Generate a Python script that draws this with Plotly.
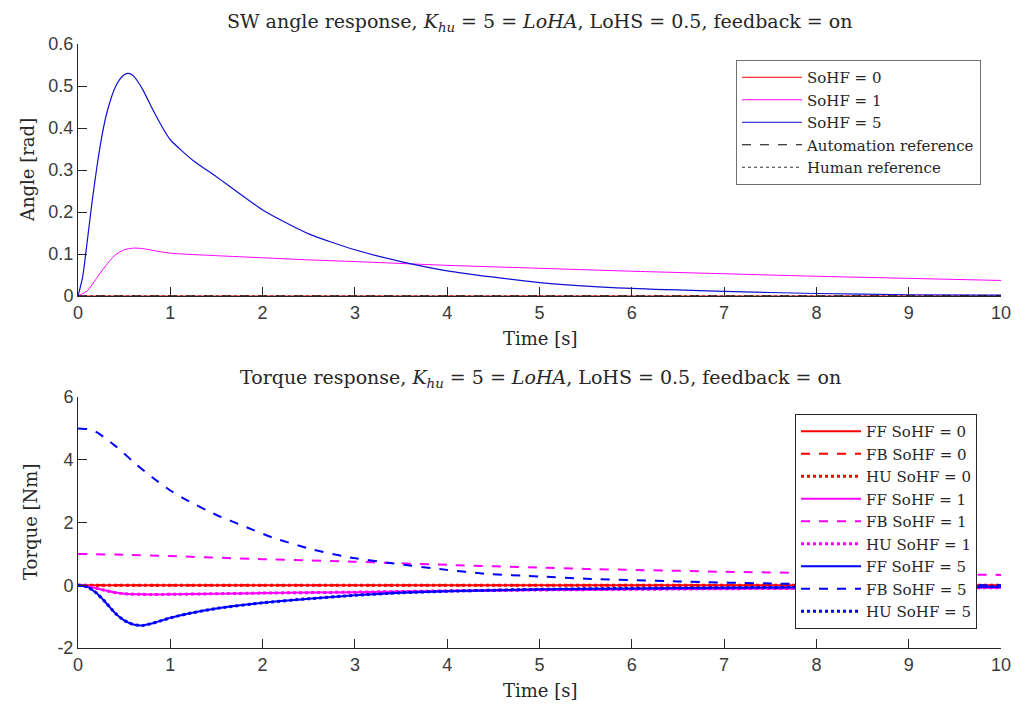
import plotly.graph_objects as go

# ---------------- data ----------------
t_ang5 = [0, 0.05, 0.1, 0.15, 0.2, 0.25, 0.3, 0.35, 0.4, 0.45, 0.5, 0.55, 0.6, 0.7, 0.8, 0.9, 1.0,
          1.25, 1.5, 2.0, 2.5, 3.0, 3.5, 4.0, 5.0, 6.0, 7.0, 8.0, 9.0, 10.0]
ang_sohf5 = [0, 0.045, 0.13, 0.22, 0.30, 0.37, 0.425, 0.465, 0.495, 0.515, 0.527, 0.53, 0.524, 0.492,
             0.448, 0.407, 0.372, 0.322, 0.284, 0.205, 0.148, 0.11, 0.082, 0.06, 0.032, 0.018,
             0.011, 0.006, 0.003, 0.002]
t_ang1 = [0, 0.1, 0.2, 0.3, 0.4, 0.5, 0.6, 0.7, 0.8, 1.0, 1.5, 2.0, 2.5, 3.0, 4.0, 5.0, 6.0, 7.0, 8.0,
          9.0, 10.0]
ang_sohf1 = [0, 0.012, 0.042, 0.072, 0.097, 0.11, 0.114, 0.113, 0.109, 0.102, 0.096, 0.091, 0.086,
             0.082, 0.073, 0.066, 0.059, 0.053, 0.047, 0.042, 0.037]
t_flat = [0, 10]
ang_sohf0 = [0, 0]
ang_auto_ref = [0, 0]
ang_human_ref = [0, 0]

t_fb5 = [0, 0.1, 0.2, 0.3, 0.4, 0.5, 0.6, 0.8, 1.0, 1.2, 1.5, 1.8, 2.1, 2.5, 2.9, 3.4, 4.0, 4.4, 5.0,
         5.5, 6.5, 7.6, 8.5, 10.0]
fb_sohf5 = [5.0, 4.98, 4.88, 4.68, 4.45, 4.2, 3.93, 3.45, 3.02, 2.68, 2.24, 1.88, 1.53, 1.17, 0.91,
            0.70, 0.49, 0.37, 0.28, 0.21, 0.12, 0.05, 0.02, 0.0]
t_fb1 = [0, 0.5, 1, 2, 3, 3.4, 4, 5, 5.5, 6, 7, 8, 9, 10]
fb_sohf1 = [1.0, 0.97, 0.93, 0.83, 0.75, 0.71, 0.65, 0.56, 0.52, 0.49, 0.43, 0.39, 0.36, 0.33]

t_ff5 = [0, 0.1, 0.2, 0.3, 0.4, 0.5, 0.6, 0.7, 0.8, 1.0, 1.2, 1.5, 2.0, 2.5, 3.0, 3.5, 4.0, 5.0, 6.0,
         7.0, 8.0, 9.0, 10.0]
ff_sohf5 = [0, -0.05, -0.25, -0.55, -0.88, -1.12, -1.25, -1.28, -1.22, -1.04, -0.9, -0.74, -0.56,
            -0.43, -0.32, -0.24, -0.19, -0.13, -0.1, -0.08, -0.06, -0.05, -0.05]
hu_sohf5 = ff_sohf5
t_ff1 = [0, 0.1, 0.2, 0.3, 0.4, 0.5, 0.7, 1.0, 1.5, 2.0, 3.0, 4.0, 5.0, 6.0, 7.0, 8.0, 9.0, 10.0]
ff_sohf1 = [0, -0.03, -0.1, -0.17, -0.23, -0.27, -0.29, -0.29, -0.27, -0.25, -0.22, -0.18, -0.15,
            -0.13, -0.11, -0.1, -0.09, -0.08]
hu_sohf1 = ff_sohf1
ff_sohf0 = [0, 0]
fb_sohf0 = [0, 0]
hu_sohf0 = [0, 0]

x_ticks = list(range(11))
y_ticks_top = [0, 0.1, 0.2, 0.3, 0.4, 0.5, 0.6]
y_ticklabels_top = ["0", "0.1", "0.2", "0.3", "0.4", "0.5", "0.6"]
y_ticks_bot = [-2, 0, 2, 4, 6]
y_ticklabels_bot = ["-2", "0", "2", "4", "6"]

EQ = "&nbsp;=&nbsp;"
title_top = ("SW angle response, <i>K</i><sub><i>hu</i></sub>" + EQ + "5" + EQ + "<i>LoHA</i>, LoHS"
             + EQ + "0.5, feedback" + EQ + "on")
title_bot = ("Torque response, <i>K</i><sub><i>hu</i></sub>" + EQ + "5" + EQ + "<i>LoHA</i>, LoHS"
             + EQ + "0.5, feedback" + EQ + "on")

RED, MAG, BLUE = "#ff0000", "#ff00ff", "#0000ff"
SERIF = "DejaVu Serif"
SANS = "Liberation Sans"

fig = go.Figure()

# ---------- top plot ----------
fig.add_trace(go.Scatter(x=t_flat, y=ang_sohf0, mode="lines", name="SoHF = 0",
                         line=dict(color=RED, width=1), legend="legend", xaxis="x", yaxis="y"))
fig.add_trace(go.Scatter(x=t_ang1, y=ang_sohf1, mode="lines", name="SoHF = 1",
                         line=dict(color=MAG, width=1, shape="spline", smoothing=0.6),
                         legend="legend", xaxis="x", yaxis="y"))
fig.add_trace(go.Scatter(x=t_ang5, y=ang_sohf5, mode="lines", name="SoHF = 5",
                         line=dict(color="#1010d0", width=1.2, shape="spline", smoothing=0.6),
                         legend="legend", xaxis="x", yaxis="y"))
fig.add_trace(go.Scatter(x=t_flat, y=ang_auto_ref, mode="lines", name="Automation reference",
                         line=dict(color="black", width=1, dash="dash"),
                         legend="legend", xaxis="x", yaxis="y"))
fig.add_trace(go.Scatter(x=t_flat, y=ang_human_ref, mode="lines", name="Human reference",
                         line=dict(color="black", width=0.8, dash="dot"),
                         legend="legend", xaxis="x", yaxis="y"))

# ---------- bottom plot ----------
def add_bot(x, y, name, color, dash, width):
    fig.add_trace(go.Scatter(x=x, y=y, mode="lines", name=name,
                             line=dict(color=color, width=width, dash=dash, shape="spline", smoothing=0.6),
                             legend="legend2", xaxis="x2", yaxis="y2"))

add_bot(t_flat, ff_sohf0, "FF SoHF = 0", RED, "solid", 2)
add_bot(t_flat, fb_sohf0, "FB SoHF = 0", RED, "dash", 2)
add_bot(t_flat, hu_sohf0, "HU SoHF = 0", RED, "dot", 3)
add_bot(t_ff1, ff_sohf1, "FF SoHF = 1", MAG, "solid", 2)
add_bot(t_fb1, fb_sohf1, "FB SoHF = 1", MAG, "dash", 2)
add_bot(t_ff1, hu_sohf1, "HU SoHF = 1", MAG, "dot", 3)
add_bot(t_ff5, ff_sohf5, "FF SoHF = 5", BLUE, "solid", 2)
add_bot(t_fb5, fb_sohf5, "FB SoHF = 5", BLUE, "dash", 2)
add_bot(t_ff5, hu_sohf5, "HU SoHF = 5", BLUE, "dot", 3)

W, H = 1015, 705
def px(xp):
    return xp / W
def py(yp):
    return (H - yp) / H

x_dom = [px(78), px(1001)]
axis_common = dict(showgrid=False, zeroline=False, showline=True, linecolor="#262626", linewidth=1,
                   ticks="inside", ticklen=9, tickcolor="#262626", automargin=False,
                   tickfont=dict(family=SANS, size=18, color="#3a3a3a"), mirror=False)

fig.update_layout(
    width=W, height=H, margin=dict(l=0, r=0, t=0, b=0, autoexpand=False),
    paper_bgcolor="white", plot_bgcolor="white",
    xaxis=dict(domain=x_dom, range=[0, 10], tickvals=x_ticks, anchor="y", **axis_common),
    yaxis=dict(domain=[py(296), py(44)], range=[0, 0.6], tickvals=y_ticks_top,
               ticktext=y_ticklabels_top, anchor="x", **axis_common),
    xaxis2=dict(domain=x_dom, range=[0, 10], tickvals=x_ticks, anchor="y2", **axis_common),
    yaxis2=dict(domain=[py(648), py(397)], range=[-2, 6], tickvals=y_ticks_bot,
                ticktext=y_ticklabels_bot, anchor="x2", **axis_common),
    legend=dict(x=px(736), y=py(60), xanchor="left", yanchor="top",
                bgcolor="white", bordercolor="#707070", borderwidth=1,
                font=dict(family=SERIF, size=15, color="#262626"), itemwidth=60,
                tracegroupgap=0),
    legend2=dict(x=px(795), y=py(414), xanchor="left", yanchor="top",
                 bgcolor="white", bordercolor="#262626", borderwidth=1,
                 font=dict(family=SERIF, size=15, color="#262626"), itemwidth=60,
                 tracegroupgap=0),
    showlegend=True,
)

ann_font = dict(family=SERIF, size=19, color="#262626")
lab_font = dict(family=SERIF, size=18, color="#262626")
fig.add_annotation(text=title_top, x=px(540), y=py(22), xref="paper", yref="paper",
                   showarrow=False, font=ann_font, xanchor="center", yanchor="middle")
fig.add_annotation(text=title_bot, x=px(540), y=py(378), xref="paper", yref="paper",
                   showarrow=False, font=ann_font, xanchor="center", yanchor="middle")
fig.add_annotation(text="Time [s]", x=px(540), y=py(338), xref="paper", yref="paper",
                   showarrow=False, font=lab_font, xanchor="center", yanchor="middle")
fig.add_annotation(text="Time [s]", x=px(540), y=py(690), xref="paper", yref="paper",
                   showarrow=False, font=lab_font, xanchor="center", yanchor="middle")
fig.add_annotation(text="Angle [rad]", x=px(27), y=py(170), xref="paper", yref="paper",
                   showarrow=False, font=lab_font, textangle=-90, xanchor="center", yanchor="middle")
fig.add_annotation(text="Torque [Nm]", x=px(30), y=py(522), xref="paper", yref="paper",
                   showarrow=False, font=lab_font, textangle=-90, xanchor="center", yanchor="middle")

fig.write_html("out.html")
